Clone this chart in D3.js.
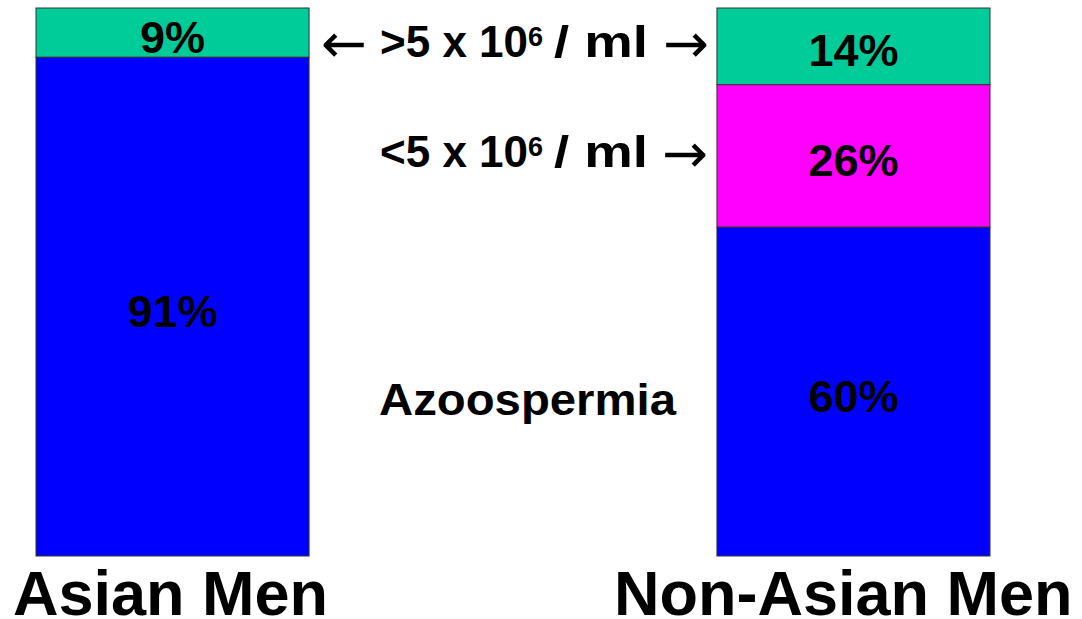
<!DOCTYPE html>
<html><head><meta charset="utf-8">
<script src="https://cdn.jsdelivr.net/npm/d3@7"></script>
<style>
html,body{margin:0;padding:0;background:#fff;}
svg{display:block;font-family:"Liberation Sans",Arial,sans-serif;font-weight:bold;}
</style></head>
<body>
<svg id="chart" width="1082" height="619"></svg>
<script>
const categories = ["Asian Men", "Non-Asian Men"];
const seriesKeys = ["azoospermia", "below5", "above5"];
const azoospermia = [91, 60];
const below5 = [0, 26];
const above5 = [9, 14];
const colors = {azoospermia: "#0000FF", below5: "#FF00FF", above5: "#00CC99"};

const svg = d3.select("#chart");
const x = d3.scaleBand().domain(categories).range([36, 990]).paddingInner(0.599).paddingOuter(0);
const y = d3.scaleLinear().domain([0, 100]).range([556, 8]);

const rows = categories.map((c, i) => ({cat: c, azoospermia: azoospermia[i], below5: below5[i], above5: above5[i]}));
const stacked = d3.stack().keys(seriesKeys)(rows);

const segs = [];
stacked.forEach(s => s.forEach((d, i) => segs.push({key: s.key, cat: categories[i], y0: d[0], y1: d[1], v: d[1] - d[0]})));
segs.sort((a, b) => b.y0 - a.y0);

segs.forEach(s => {
  if (s.v <= 0) return;
  svg.append("rect")
    .attr("x", x(s.cat)).attr("width", x.bandwidth())
    .attr("y", y(s.y1)).attr("height", y(s.y0) - y(s.y1))
    .attr("fill", colors[s.key]).attr("stroke", "#333").attr("stroke-width", 1);
  svg.append("text")
    .attr("x", x(s.cat) + x.bandwidth() / 2)
    .attr("y", (y(s.y0) + y(s.y1)) / 2 + 20)
    .attr("text-anchor", "middle").attr("font-size", 45).attr("fill", "#000")
    .text(s.v + "%");
});

// category labels
svg.append("text").attr("x", x(categories[0]) - 23).attr("y", 615)
  .attr("font-size", 63).attr("fill", "#000").text(categories[0]);
svg.append("text").attr("x", x(categories[1]) - 103).attr("y", 615)
  .attr("font-size", 63).attr("fill", "#000").text(categories[1]);

// middle annotations
function arrow(xs, yc, ch) {
  svg.append("text").attr("x", xs).attr("y", yc + 17)
    .attr("font-family", "DejaVu Sans").attr("font-weight", "normal")
    .attr("font-size", 54).attr("fill", "#000")
    .attr("textLength", 46).attr("lengthAdjust", "spacingAndGlyphs").text(ch);
}
function conc(yb, sym, leftArrow, rx) {
  if (leftArrow) arrow(321, yb - 12, "\u2190");
  const t = svg.append("text").attr("x", 380).attr("y", yb).attr("font-size", 44).attr("fill", "#000");
  t.append("tspan").text(sym + "5 x 10");
  t.append("tspan").attr("font-size", 27).attr("dy", -11).text("6");
  svg.append("text").attr("x", 554).attr("y", yb).attr("font-size", 44).attr("fill", "#000")
    .attr("textLength", 94).attr("lengthAdjust", "spacingAndGlyphs").text("/ ml");
  arrow(rx, yb - 12, "\u2192");
}
conc(57, ">", true, 663);
conc(167, "<", false, 662);

svg.append("text").attr("x", 379).attr("y", 415).attr("font-size", 45).attr("fill", "#000")
  .attr("textLength", 297).attr("lengthAdjust", "spacingAndGlyphs").text("Azoospermia");
</script>
</body></html>
